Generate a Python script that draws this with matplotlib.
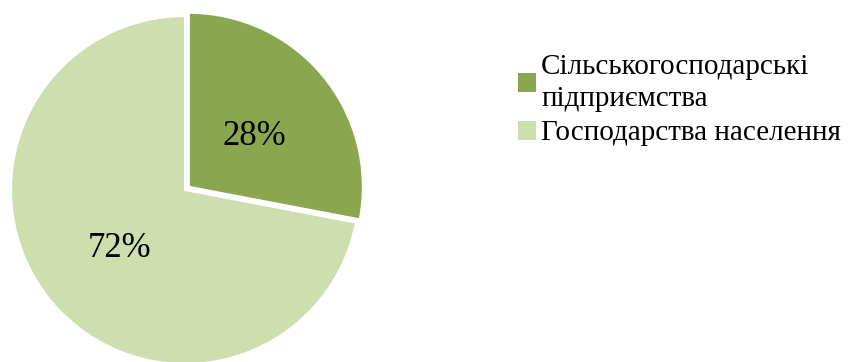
#!/usr/bin/python
# Pie chart: structure of producers (agricultural enterprises vs households).

import matplotlib
matplotlib.use("Agg")
import matplotlib.pyplot as plt
from matplotlib.patches import Patch

# data
categories = ["Сільськогосподарські\nпідприємства", "Господарства населення"]
shares     = [28, 72]
colors     = ["#8aa64e", "#cedeaf"]

def main():
    fig = plt.figure(figsize=(8.51, 3.62), dpi=100)
    plt.rcParams["font.family"] = ["Liberation Serif", "DejaVu Serif"]

    # axes in pixel-like units so the pie lands where it should
    ax = fig.add_axes([0, 0, 1, 1])
    wedges, texts, autotexts = ax.pie(
        shares, colors=colors, explode=[5, 0], startangle=90,
        counterclock=False, center=(185, 172), radius=174,
        autopct="%d%%", pctdistance=0.49,
        wedgeprops=dict(edgecolor="white", linewidth=1.5),
        textprops=dict(fontsize=25, color="black", va="center_baseline"))
    ax.set_xlim(0, 851)
    ax.set_ylim(0, 362)
    ax.set_aspect("equal")
    ax.axis("off")

    # legend with square markers
    handles = [Patch(facecolor=c, edgecolor="none") for c in colors]
    leg = fig.legend(handles, categories, loc="center left",
                     bbox_to_anchor=(518/851, 1 - 100/362), frameon=False,
                     fontsize=21, handlelength=0.62, handleheight=0.62,
                     handletextpad=0.17, borderpad=0, borderaxespad=0,
                     labelspacing=0.3)
    for t in leg.get_texts():
        t.set_linespacing(1.3)

    fig.savefig("out.png", dpi=100)

if __name__ == "__main__":
    main()
